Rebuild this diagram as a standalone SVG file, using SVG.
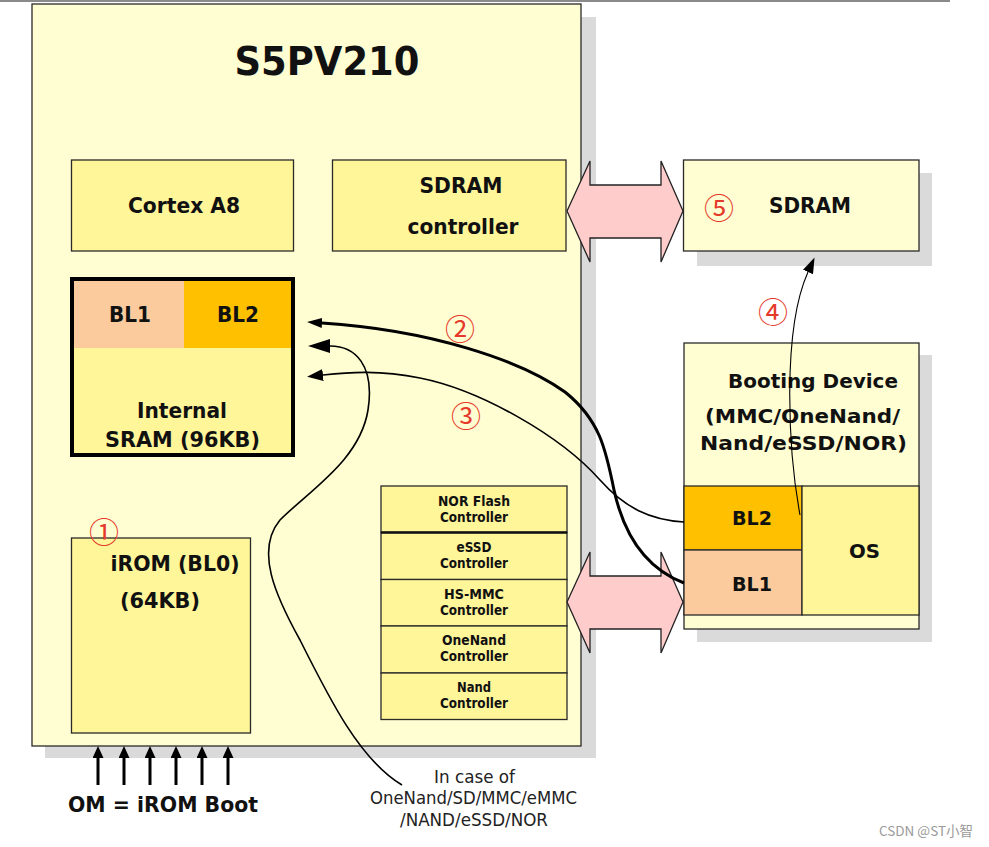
<svg xmlns="http://www.w3.org/2000/svg" width="989" height="847" viewBox="0 0 989 847">
<defs>
<style>
.b{font-family:"DejaVu Sans",Verdana,sans-serif;font-weight:bold;fill:#111;text-anchor:middle}
.n{font-family:"DejaVu Sans",sans-serif;fill:#222;text-anchor:middle}
.box{stroke:#2a2a2a;stroke-width:1.3}
.lt{fill:#FFFDD2}
.yl{fill:#FFF599}
.sh{fill:#DADADA}
.bl1{fill:#FBCB9E}
.bl2{fill:#FFC000}
.num{font-family:"Noto Sans CJK SC","DejaVu Sans",sans-serif;fill:#E53A2B;text-anchor:middle;font-size:30px}
.wide{fill:#FFCCCC;stroke:#222;stroke-width:1.3;stroke-linejoin:miter}
.c{fill:none;stroke:#000}
.ctl{font-size:14px}
</style>
<marker id="a2" markerUnits="userSpaceOnUse" viewBox="0 0 15 10" markerWidth="15" markerHeight="10" refX="0" refY="5" orient="auto"><path d="M0,0 L15,5 L0,10 z" fill="#000"/></marker>
<marker id="a3" markerUnits="userSpaceOnUse" viewBox="0 0 16 12" markerWidth="16" markerHeight="12" refX="0" refY="6" orient="auto"><path d="M0,0 L16,6 L0,12 z" fill="#000"/></marker>
<marker id="a4" markerUnits="userSpaceOnUse" viewBox="0 0 22 14" markerWidth="22" markerHeight="14" refX="0" refY="7" orient="auto"><path d="M0,0 L22,7 L0,14 z" fill="#000"/></marker>
<marker id="a5" markerUnits="userSpaceOnUse" viewBox="0 0 16 11" markerWidth="16" markerHeight="11" refX="0" refY="5.5" orient="auto"><path d="M0,0 L16,5.5 L0,11 z" fill="#000"/></marker>
<marker id="om" markerUnits="userSpaceOnUse" viewBox="0 0 12 11" markerWidth="12" markerHeight="11" refX="0" refY="5.5" orient="auto"><path d="M0,0 L12,5.5 L0,11 z" fill="#000"/></marker>
</defs>

<line x1="0" y1="1" x2="950" y2="1" stroke="#8a8a8a" stroke-width="2"/>

<g id="chip">
<rect class="sh" x="581" y="17" width="15" height="741"/>
<rect class="sh" x="45" y="746" width="551" height="12"/>
<rect class="lt box" x="32" y="4" width="549" height="742"/>
<text class="b" x="327" y="75" font-size="39" textLength="185" lengthAdjust="spacingAndGlyphs">S5PV210</text>
</g>

<g id="cortex">
<rect class="yl box" x="71.5" y="160" width="222" height="91"/>
<text class="b" x="184" y="213" font-size="21" textLength="112" lengthAdjust="spacingAndGlyphs">Cortex A8</text>
</g>

<g id="sdramctrl">
<rect class="yl box" x="332.5" y="160" width="233.5" height="91"/>
<text class="b" x="461" y="193" font-size="21" textLength="83" lengthAdjust="spacingAndGlyphs">SDRAM</text>
<text class="b" x="463" y="234" font-size="21" textLength="111" lengthAdjust="spacingAndGlyphs">controller</text>
</g>

<g id="sram">
<rect class="yl" x="72" y="279" width="221" height="176"/>
<rect class="bl1" x="74" y="281" width="110" height="67"/>
<rect class="bl2" x="184" y="281" width="109" height="67"/>
<rect x="72" y="279" width="221" height="176" fill="none" stroke="#000" stroke-width="4"/>
<text class="b" x="130" y="322" font-size="21" textLength="42" lengthAdjust="spacingAndGlyphs">BL1</text>
<text class="b" x="238" y="322" font-size="21" textLength="42" lengthAdjust="spacingAndGlyphs">BL2</text>
<text class="b" x="182" y="418" font-size="21" textLength="90" lengthAdjust="spacingAndGlyphs">Internal</text>
<text class="b" x="182.5" y="447" font-size="21" textLength="155" lengthAdjust="spacingAndGlyphs">SRAM (96KB)</text>
</g>

<g id="irom">
<rect class="yl box" x="71.5" y="538" width="179" height="195"/>
<text class="num" x="104" y="543">①</text>
<text class="b" x="175" y="571" font-size="22" textLength="129" lengthAdjust="spacingAndGlyphs">iROM (BL0)</text>
<text class="b" x="160" y="608" font-size="22" textLength="80" lengthAdjust="spacingAndGlyphs">(64KB)</text>
</g>

<g id="controllers">
<rect class="yl box" x="381" y="486" width="186" height="46.5"/>
<rect class="yl box" x="381" y="532.5" width="186" height="47"/>
<rect class="yl box" x="381" y="579.5" width="186" height="46.5"/>
<rect class="yl box" x="381" y="626" width="186" height="47"/>
<rect class="yl box" x="381" y="673" width="186" height="46.5"/>
<line x1="381" y1="532.5" x2="567" y2="532.5" stroke="#111" stroke-width="2.5"/>
<text class="b ctl" x="474" y="506" textLength="72" lengthAdjust="spacingAndGlyphs">NOR Flash</text>
<text class="b ctl" x="474" y="522" textLength="68" lengthAdjust="spacingAndGlyphs">Controller</text>
<text class="b ctl" x="474" y="552" textLength="35" lengthAdjust="spacingAndGlyphs">eSSD</text>
<text class="b ctl" x="474" y="568" textLength="68" lengthAdjust="spacingAndGlyphs">Controller</text>
<text class="b ctl" x="474" y="599" textLength="60" lengthAdjust="spacingAndGlyphs">HS-MMC</text>
<text class="b ctl" x="474" y="615" textLength="68" lengthAdjust="spacingAndGlyphs">Controller</text>
<text class="b ctl" x="474" y="645" textLength="64" lengthAdjust="spacingAndGlyphs">OneNand</text>
<text class="b ctl" x="474" y="661" textLength="68" lengthAdjust="spacingAndGlyphs">Controller</text>
<text class="b ctl" x="474" y="692" textLength="34" lengthAdjust="spacingAndGlyphs">Nand</text>
<text class="b ctl" x="474" y="708" textLength="68" lengthAdjust="spacingAndGlyphs">Controller</text>
</g>

<g id="sdram">
<rect class="sh" x="919" y="173" width="13" height="93"/>
<rect class="sh" x="697" y="251" width="235" height="15"/>
<rect class="lt box" x="683.5" y="160" width="235.5" height="91"/>
<text class="num" x="719" y="219">⑤</text>
<text class="b" x="810" y="213" font-size="21" textLength="82" lengthAdjust="spacingAndGlyphs">SDRAM</text>
</g>

<g id="bootdev">
<rect class="sh" x="919" y="355" width="13" height="287"/>
<rect class="sh" x="697" y="629" width="235" height="13"/>
<rect class="lt box" x="684" y="343" width="235" height="286"/>
<rect class="bl2 box" x="684" y="486" width="118" height="64"/>
<rect class="bl1 box" x="684" y="550" width="118" height="65"/>
<rect class="yl box" x="802" y="486" width="117" height="129"/>
<text class="b" x="813" y="388" font-size="20" textLength="170" lengthAdjust="spacingAndGlyphs">Booting Device</text>
<text class="b" x="802.5" y="423" font-size="20" textLength="195" lengthAdjust="spacingAndGlyphs">(MMC/OneNand/</text>
<text class="b" x="803.5" y="450" font-size="20" textLength="207" lengthAdjust="spacingAndGlyphs">Nand/eSSD/NOR)</text>
<text class="b" x="752" y="525" font-size="20" textLength="40" lengthAdjust="spacingAndGlyphs">BL2</text>
<text class="b" x="752" y="591" font-size="20" textLength="40" lengthAdjust="spacingAndGlyphs">BL1</text>
<text class="b" x="864.5" y="558" font-size="20" textLength="31" lengthAdjust="spacingAndGlyphs">OS</text>
</g>

<g id="connectors">
<polygon class="wide" points="567,211 590,161 590,185 661,185 661,161 683,211 661,262 661,238 590,238 590,262"/>
<polygon class="wide" points="567,602 590,552 590,576 661,576 661,552 683,602 661,653 661,629 590,629 590,653"/>
<path class="c" stroke-width="3" d="M684,583 C650,570 625,540 614,490 C606,450 600,420 565,392 C520,360 430,330 322,323" marker-end="url(#a2)"/>
<path class="c" stroke-width="1.6" d="M684,522 C650,520 625,508 600,480 C560,435 480,390 420,378 C380,370 350,372 323,375" marker-end="url(#a3)"/>
<path class="c" stroke-width="1.6" d="M402,785 C360,760 330,700 300,640 C275,595 255,550 280,520 C310,490 360,460 368,410 C375,365 355,346 330,346" marker-end="url(#a4)"/>
<path class="c" stroke-width="1.1" d="M800,515 C788,450 782,330 808,272" marker-end="url(#a5)"/>
<g stroke="#000" stroke-width="3">
<line x1="98" y1="785" x2="98" y2="758" marker-end="url(#om)"/>
<line x1="124" y1="785" x2="124" y2="758" marker-end="url(#om)"/>
<line x1="150" y1="785" x2="150" y2="758" marker-end="url(#om)"/>
<line x1="176" y1="785" x2="176" y2="758" marker-end="url(#om)"/>
<line x1="202" y1="785" x2="202" y2="758" marker-end="url(#om)"/>
<line x1="228" y1="785" x2="228" y2="758" marker-end="url(#om)"/>
</g>
<text class="num" x="460" y="340">②</text>
<text class="num" x="466" y="427">③</text>
<text class="num" x="773" y="323">④</text>
</g>

<g id="labels">
<text class="b" x="163" y="812" font-size="21" textLength="190" lengthAdjust="spacingAndGlyphs">OM = iROM Boot</text>
<text class="n" x="474.5" y="783" font-size="17" textLength="81" lengthAdjust="spacingAndGlyphs">In case of</text>
<text class="n" x="473.5" y="804" font-size="17" textLength="207" lengthAdjust="spacingAndGlyphs">OneNand/SD/MMC/eMMC</text>
<text class="n" x="474" y="826" font-size="17" textLength="148" lengthAdjust="spacingAndGlyphs">/NAND/eSSD/NOR</text>
<text x="926" y="836" font-family="'Noto Sans CJK SC',sans-serif" font-size="13.5" fill="#9a9a9a" text-anchor="middle">CSDN @ST小智</text>
</g>
</svg>
